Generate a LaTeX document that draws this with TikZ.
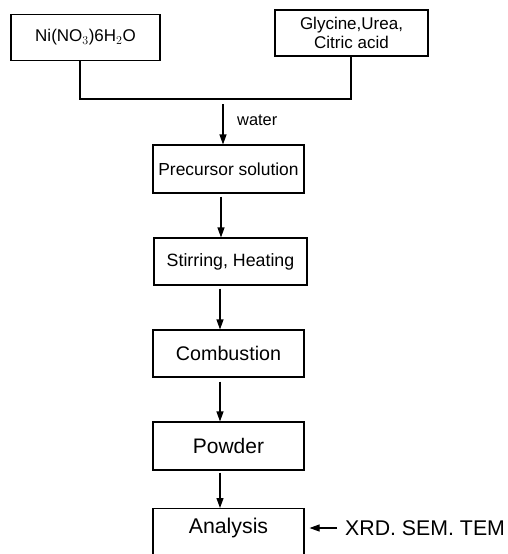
\documentclass[tikz,border=0pt]{standalone}
\usepackage{fontspec}
\setmainfont{Liberation Sans}
\usetikzlibrary{arrows.meta}
\begin{document}
\begin{tikzpicture}[x=1pt,y=-1pt,
  box/.style={draw, line width=1.1pt, inner sep=0pt, align=center},
  conn/.style={line width=1.1pt},
  arr/.style={line width=1.1pt, -{Triangle[length=10pt,width=7pt]}},
  fs/.style={font=\fontsize{#1}{19}\selectfont}]
\useasboundingbox (0,0) rectangle (508,554);
\node[box, fs=17, minimum width=149pt, minimum height=46pt] (ni) at (85.5,37.5) {Ni(NO$_3$)6H$_2$O};
\node[box, fs=17, minimum width=153pt, minimum height=46pt] (gly) at (351.5,33) {Glycine,Urea,\\Citric acid};
\coordinate (j1) at (80,99);
\coordinate (j2) at (351,99);
\draw[conn] (ni.south -| j1) -- (j1) -- (j2) -- (gly.south -| j2);
\node[box, fs=17.4, minimum width=151pt, minimum height=48pt] (pre) at (228.5,169) {Precursor solution};
\node[box, fs=17.8, minimum width=153pt, minimum height=47pt] (stir) at (230.5,261.5) {Stirring, Heating};
\node[box, fs=19.7, minimum width=151pt, minimum height=47pt] (comb) at (228.5,353.5) {Combustion};
\node[box, fs=21, minimum width=151pt, minimum height=48pt] (pow) at (228.5,446) {Powder};
\node[box, minimum width=151pt, minimum height=70pt, anchor=north] (ana) at (228.5,508) {};
\node[fs=21.3, inner sep=0pt] (anatext) at (228.5,528) {Analysis};
\coordinate (w) at (223,104);
\draw[arr] (w) -- (w |- pre.north);
\node[fs=16.4, anchor=west, inner sep=0pt] (water) at (237,120) {water};
\coordinate (a1) at (221,0);
\draw[arr, shorten <=3pt] (a1 |- pre.south) -- (a1 |- stir.north);
\coordinate (a2) at (220,0);
\draw[arr, shorten <=3pt] (a2 |- stir.south) -- (a2 |- comb.north);
\draw[arr, shorten <=4pt] (a2 |- comb.south) -- (a2 |- pow.north);
\coordinate (a3) at (220,0);
\draw[arr, shorten <=2pt] (a3 |- pow.south) -- (a3 |- ana.north);
\node[fs=21.3, anchor=west, inner sep=0pt] (xrd) at (345,528) {XRD. SEM. TEM};
\draw[arr, shorten >=5pt, shorten <=8pt] (xrd.west) -- (xrd.west -| ana.east);
\end{tikzpicture}
\end{document}
